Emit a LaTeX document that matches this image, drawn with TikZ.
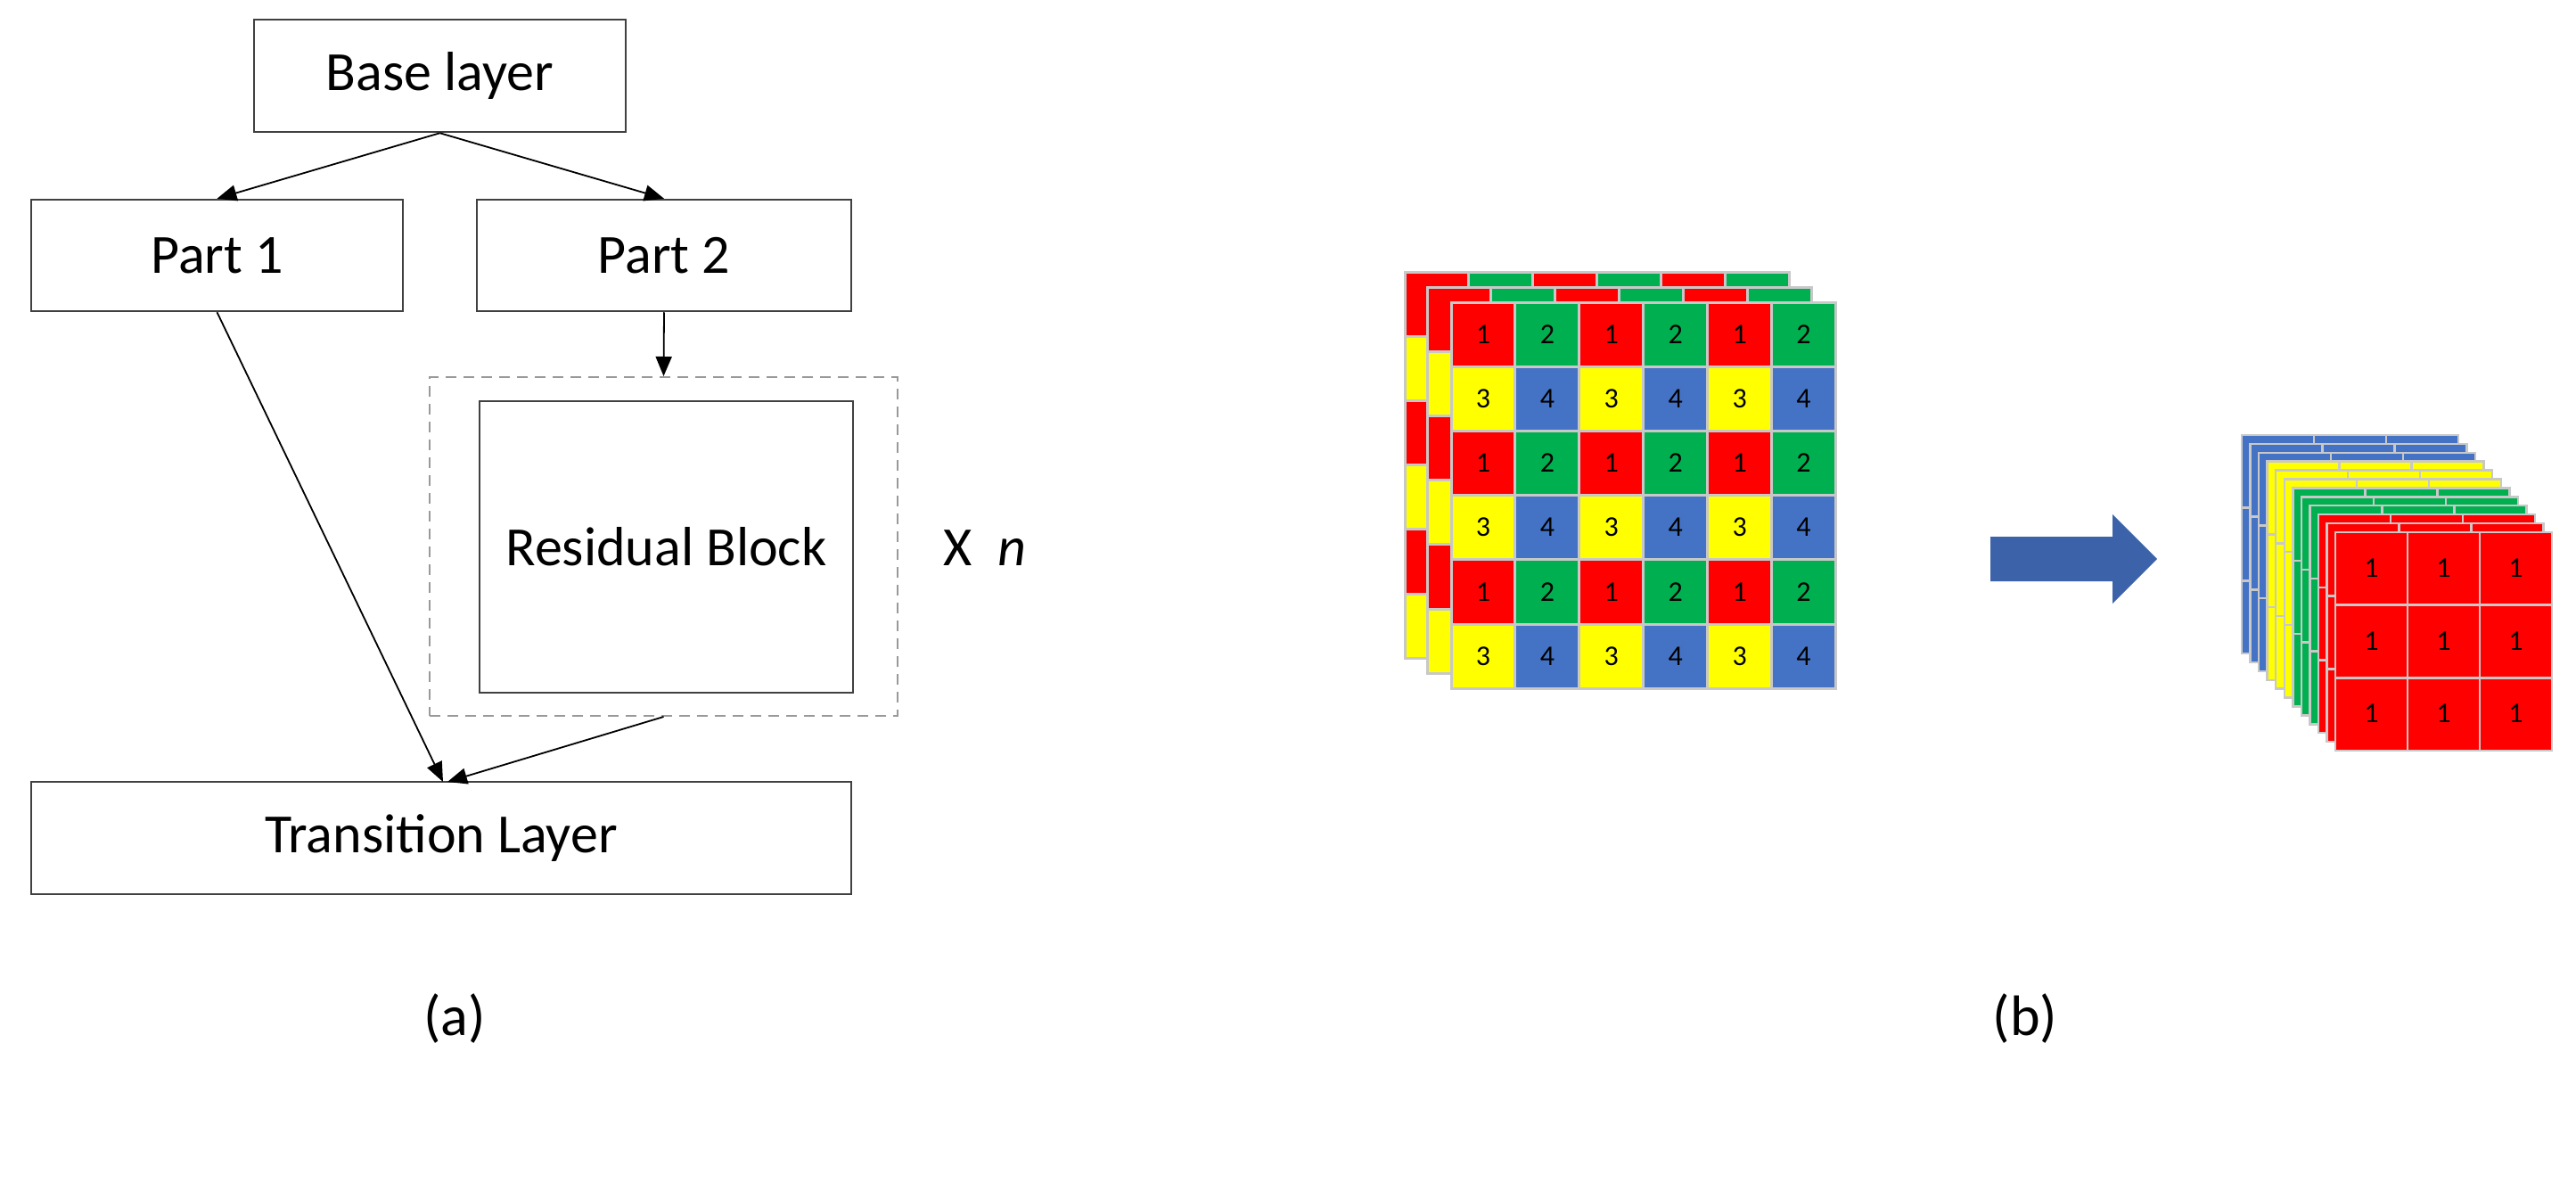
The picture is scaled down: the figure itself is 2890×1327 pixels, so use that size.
\documentclass[tikz,border=0pt]{standalone}
\usepackage{fontspec}
\setmainfont{Carlito}
\usetikzlibrary{arrows.meta}
\definecolor{cred}{HTML}{FF0000}
\definecolor{cgreen}{HTML}{00B050}
\definecolor{cyellow}{HTML}{FFFF00}
\definecolor{cblue}{HTML}{4472C4}
\definecolor{carrow}{HTML}{3C63A9}
\definecolor{gridc}{HTML}{C8C8C8}
\begin{document}
\begin{tikzpicture}[x=1pt,y=-1pt,
  box/.style={draw=black!75,line width=2.5pt,inner sep=0pt,font=\fontsize{62}{70}\selectfont},
  conn/.style={line width=1.8pt,-{Triangle[length=22pt,width=18pt]}},
  cellnum/.style={font=\fontsize{32}{36}\selectfont}]
\useasboundingbox (0,0) rectangle (2890,1327);
% ----- (a)
\node[box,minimum width=417pt,minimum height=126pt] (base) at (493.5,85) {Base layer};
\node[box,minimum width=417pt,minimum height=125pt] (p1) at (243.5,286.5) {Part 1};
\node[box,minimum width=420pt,minimum height=125pt] (p2) at (745,286.5) {Part 2};
\node[draw=black!40,dash pattern=on 12pt off 8pt,line width=2pt,minimum width=525pt,minimum height=380pt,inner sep=0pt] (dash) at (744.5,613) {};
\node[box,minimum width=419pt,minimum height=327pt] (res) at (747.5,613.5) {Residual Block};
\node[box,minimum width=920pt,minimum height=126pt] (tr) at (495,940) {Transition Layer};
\node[font=\fontsize{62}{70}\selectfont] (xn) at (1105,615) {X\ \ \textit{n}};
\node[font=\fontsize{64}{70}\selectfont] (la) at (510,1143) {(a)};
\node[font=\fontsize{64}{70}\selectfont] (lb) at (2272,1143) {(b)};
\coordinate (t1) at (497,877);
\coordinate (t2) at (502,877);
\draw[conn] (base.south) -- (p1.north);
\draw[conn] (base.south) -- (p2.north);
\draw[conn] (p2.south) -- (dash.north);
\draw[conn] (p1.south) -- (t1);
\draw[conn] (dash.south) -- (t2);
% ----- (b) left stack
\foreach \ox/\oy/\num in {1576/305/0,1601/322/0,1628/339/1}{
  \foreach \r in {0,...,5}{
    \foreach \c in {0,...,5}{
      \pgfmathtruncatemacro{\pr}{mod(\r,2)}
      \pgfmathtruncatemacro{\pc}{mod(\c,2)}
      \ifnum\pr=0 \ifnum\pc=0 \def\cc{cred}\def\nn{1}\else\def\cc{cgreen}\def\nn{2}\fi
      \else \ifnum\pc=0 \def\cc{cyellow}\def\nn{3}\else\def\cc{cblue}\def\nn{4}\fi\fi
      \filldraw[fill=\cc,draw=gridc,line width=3pt] (\ox+\c*71.9,\oy+\r*72.2) rectangle ++(71.9,72.2);
      \ifnum\num=1 \node[cellnum] at (\ox+\c*71.9+36,\oy+\r*72.2+36) {\nn};\fi
    }
  }
}
% arrow
\fill[carrow] (2233,602) -- (2370,602) -- (2370,577) -- (2420,627) -- (2370,677) -- (2370,652) -- (2233,652) -- cycle;
% ----- right stack
\foreach \i/\cc in {0/cblue,1/cblue,2/cblue,3/cyellow,4/cyellow,5/cyellow,6/cgreen,7/cgreen,8/cgreen,9/cred,10/cred,11/cred}{
  \foreach \r in {0,1,2}{
    \foreach \c in {0,1,2}{
      \filldraw[fill=\cc,draw=gridc,line width=2.5pt] (2515+\i*9.55+\c*81,488+\i*9.9+\r*81.7) rectangle ++(81,81.7);
    }
  }
}
\foreach \r in {0,1,2}{\foreach \c in {0,1,2}{
  \node[cellnum] at (2620+\c*81+40.5,597+\r*81.7+40) {1};
}}
\end{tikzpicture}
\end{document}
